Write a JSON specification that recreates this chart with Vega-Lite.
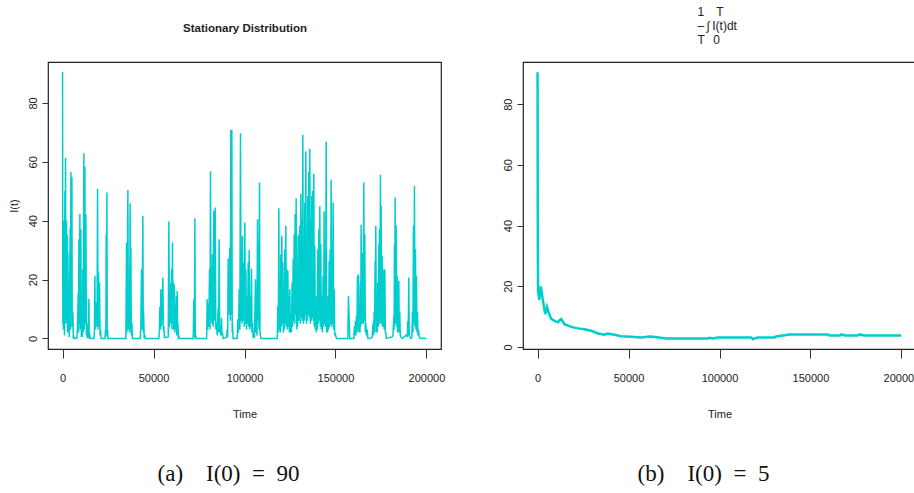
{
 "$schema": "https://vega.github.io/schema/vega-lite/v6.json",
 "background": "white",
 "padding": {"left": 7, "top": 4, "right": 0, "bottom": 0},
 "config": {
   "font": "Liberation Sans",
   "view": {"stroke": "#222", "strokeWidth": 1.2},
   "axis": {"domain": false, "grid": false, "tickColor": "#333", "labelColor": "#222", "titleColor": "#222", "labelFont": "Liberation Sans", "titleFont": "Liberation Sans", "titleFontWeight": "normal", "labelFontSize": 11, "titleFontSize": 11},
   "title": {"font": "Liberation Serif", "color": "#111", "fontWeight": "normal", "fontSize": 23}
 },
 "datasets": {
  "a": [{"t":0,"v":90.5},{"t":150,"v":5},{"t":300,"v":40},{"t":450,"v":3},{"t":600,"v":28},{"t":750,"v":12},{"t":900,"v":40},{"t":1050,"v":1},{"t":1282,"v":50.2},{"t":1450,"v":8},{"t":1648,"v":61.3},{"t":1800,"v":5},{"t":2000,"v":30},{"t":2198,"v":40},{"t":2400,"v":6},{"t":2600,"v":35},{"t":2750,"v":2},{"t":2930,"v":29.2},{"t":3100,"v":8},{"t":3300,"v":12},{"t":3480,"v":9.3},{"t":3650,"v":0.5},{"t":3900,"v":20},{"t":4213,"v":37.7},{"t":4400,"v":3},{"t":4579,"v":56.5},{"t":4800,"v":10},{"t":5128,"v":54.8},{"t":5300,"v":4},{"t":5678,"v":8.8},{"t":5900,"v":0.3},{"t":6227,"v":0.5},{"t":6500,"v":0},{"t":7800,"v":0},{"t":8100,"v":2},{"t":8608,"v":15.6},{"t":8800,"v":2},{"t":8975,"v":33.7},{"t":9200,"v":5},{"t":9524,"v":42.3},{"t":9750,"v":3},{"t":10073,"v":37.1},{"t":10300,"v":0.5},{"t":10440,"v":6.5},{"t":10800,"v":0.5},{"t":11172,"v":23.5},{"t":11400,"v":2},{"t":11722,"v":62.9},{"t":11950,"v":3},{"t":12271,"v":58.4},{"t":12500,"v":5},{"t":12821,"v":42.3},{"t":13100,"v":1},{"t":13370,"v":5.3},{"t":13600,"v":0.3},{"t":14200,"v":0.2},{"t":14469,"v":13.5},{"t":14650,"v":0.2},{"t":14835,"v":1.9},{"t":15100,"v":0},{"t":17300,"v":0},{"t":17500,"v":2},{"t":17766,"v":21.3},{"t":18000,"v":3},{"t":18315,"v":12.2},{"t":18600,"v":4},{"t":19000,"v":12},{"t":19231,"v":50.8},{"t":19500,"v":3},{"t":19780,"v":22.4},{"t":20050,"v":4},{"t":20330,"v":19},{"t":20600,"v":1},{"t":20879,"v":3.1},{"t":21200,"v":0},{"t":23300,"v":0},{"t":23626,"v":3.1},{"t":23800,"v":0.5},{"t":23992,"v":35.4},{"t":24150,"v":10},{"t":24359,"v":49.6},{"t":24550,"v":1},{"t":24725,"v":3.1},{"t":25000,"v":0},{"t":34800,"v":0},{"t":35164,"v":32.6},{"t":35400,"v":2},{"t":35897,"v":50.4},{"t":36200,"v":3},{"t":36446,"v":13.3},{"t":36800,"v":2},{"t":37179,"v":45.9},{"t":37350,"v":3},{"t":37545,"v":30.9},{"t":37800,"v":1},{"t":38095,"v":5.3},{"t":38400,"v":0},{"t":42700,"v":0},{"t":43040,"v":4.2},{"t":43407,"v":23.5},{"t":43700,"v":3},{"t":44139,"v":41.7},{"t":44350,"v":2},{"t":44506,"v":9.3},{"t":44850,"v":0.5},{"t":45238,"v":0.8},{"t":45500,"v":0},{"t":52900,"v":0},{"t":53200,"v":2},{"t":53480,"v":10.7},{"t":53750,"v":3},{"t":54030,"v":16.7},{"t":54300,"v":4},{"t":54600,"v":8},{"t":55129,"v":20.7},{"t":55400,"v":3},{"t":55678,"v":4.2},{"t":56000,"v":0.3},{"t":58100,"v":0.5},{"t":58425,"v":39.7},{"t":58700,"v":4},{"t":58975,"v":14.4},{"t":59250,"v":5},{"t":59524,"v":19},{"t":59700,"v":6},{"t":59890,"v":23.5},{"t":60150,"v":3},{"t":60440,"v":32.6},{"t":60620,"v":5},{"t":60806,"v":19},{"t":61100,"v":3},{"t":61356,"v":18.4},{"t":61650,"v":2},{"t":61905,"v":11},{"t":62200,"v":3},{"t":62455,"v":14.4},{"t":62750,"v":1},{"t":63004,"v":16.1},{"t":63200,"v":2},{"t":63370,"v":5.3},{"t":63650,"v":0.5},{"t":63920,"v":0.8},{"t":64200,"v":0},{"t":71800,"v":0},{"t":72162,"v":13.3},{"t":72450,"v":0.5},{"t":72711,"v":40.8},{"t":72950,"v":0.5},{"t":73260,"v":0.8},{"t":73500,"v":0},{"t":79200,"v":0},{"t":79488,"v":13.3},{"t":79750,"v":3},{"t":80037,"v":12},{"t":80400,"v":4},{"t":80770,"v":23.5},{"t":81050,"v":3},{"t":81319,"v":56.8},{"t":81600,"v":6},{"t":81868,"v":21.3},{"t":82150,"v":5},{"t":82418,"v":28.6},{"t":82800,"v":4},{"t":83150,"v":43.4},{"t":83500,"v":6},{"t":83883,"v":44.5},{"t":84250,"v":3},{"t":84615,"v":5.3},{"t":85000,"v":1},{"t":85531,"v":10.5},{"t":85800,"v":2},{"t":86081,"v":33.7},{"t":86350,"v":2},{"t":86630,"v":4.2},{"t":87000,"v":1},{"t":87363,"v":7},{"t":87650,"v":1},{"t":87912,"v":1.9},{"t":88200,"v":0},{"t":90200,"v":0.3},{"t":90476,"v":3.1},{"t":90750,"v":0.5},{"t":91026,"v":27.2},{"t":91300,"v":8},{"t":91575,"v":20.1},{"t":91750,"v":10},{"t":91941,"v":30.9},{"t":92200,"v":6},{"t":92491,"v":70.9},{"t":92750,"v":8},{"t":93040,"v":70.8},{"t":93250,"v":2},{"t":93407,"v":5.3},{"t":93700,"v":0},{"t":96000,"v":0},{"t":96337,"v":6.5},{"t":96700,"v":2},{"t":97070,"v":16.7},{"t":97450,"v":3},{"t":97802,"v":69.7},{"t":98100,"v":6},{"t":98352,"v":20.1},{"t":98600,"v":5},{"t":98901,"v":34.9},{"t":99250,"v":6},{"t":99634,"v":25.8},{"t":99900,"v":4},{"t":100183,"v":39.4},{"t":100450,"v":5},{"t":100733,"v":23.5},{"t":101100,"v":3},{"t":101465,"v":14.4},{"t":101750,"v":5},{"t":102014,"v":25.8},{"t":102300,"v":4},{"t":102564,"v":30},{"t":102900,"v":3},{"t":103296,"v":14.4},{"t":103550,"v":4},{"t":103846,"v":23.7},{"t":104100,"v":2},{"t":104395,"v":5.3},{"t":104750,"v":0.5},{"t":105128,"v":0.8},{"t":105500,"v":0.5},{"t":106043,"v":20.1},{"t":106300,"v":2},{"t":106593,"v":5.3},{"t":106850,"v":1},{"t":107142,"v":40.5},{"t":107400,"v":6},{"t":107692,"v":32.6},{"t":107950,"v":3},{"t":108241,"v":53},{"t":108500,"v":2},{"t":108791,"v":0.8},{"t":109100,"v":0},{"t":118000,"v":0},{"t":118314,"v":11},{"t":118600,"v":2},{"t":118864,"v":44.2},{"t":119150,"v":3},{"t":119414,"v":7.6},{"t":119700,"v":2},{"t":119963,"v":28.6},{"t":120250,"v":4},{"t":120512,"v":34.9},{"t":120800,"v":5},{"t":121062,"v":25.8},{"t":121350,"v":2},{"t":121611,"v":4.2},{"t":121900,"v":3},{"t":122161,"v":30.3},{"t":122450,"v":5},{"t":122710,"v":38.3},{"t":123000,"v":4},{"t":123260,"v":23.5},{"t":123550,"v":3},{"t":123809,"v":23},{"t":124100,"v":4},{"t":124359,"v":14.4},{"t":124650,"v":2},{"t":124908,"v":16.7},{"t":125200,"v":2},{"t":125457,"v":4.2},{"t":125800,"v":2},{"t":126190,"v":19},{"t":126450,"v":4},{"t":126740,"v":26.9},{"t":127000,"v":6},{"t":127289,"v":35.4},{"t":127550,"v":5},{"t":127839,"v":42.3},{"t":128100,"v":8},{"t":128388,"v":47.6},{"t":128650,"v":3},{"t":128937,"v":7.6},{"t":129200,"v":4},{"t":129487,"v":34.9},{"t":129750,"v":6},{"t":130036,"v":35.4},{"t":130200,"v":8},{"t":130403,"v":38.3},{"t":130700,"v":5},{"t":130952,"v":49.1},{"t":131250,"v":7},{"t":131502,"v":40.5},{"t":131800,"v":6},{"t":132051,"v":69.2},{"t":132350,"v":5},{"t":132601,"v":25.8},{"t":132900,"v":6},{"t":133150,"v":46.2},{"t":133400,"v":8},{"t":133700,"v":63.5},{"t":134000,"v":5},{"t":134249,"v":24.7},{"t":134500,"v":6},{"t":134798,"v":48.5},{"t":135100,"v":8},{"t":135348,"v":56.5},{"t":135600,"v":7},{"t":135897,"v":64.4},{"t":136200,"v":5},{"t":136447,"v":40.5},{"t":136700,"v":6},{"t":136996,"v":48.5},{"t":137300,"v":7},{"t":137546,"v":50.2},{"t":137800,"v":6},{"t":138095,"v":55.9},{"t":138350,"v":4},{"t":138645,"v":31.5},{"t":138900,"v":3},{"t":139194,"v":14.4},{"t":139450,"v":2},{"t":139744,"v":5.3},{"t":140000,"v":3},{"t":140293,"v":30.3},{"t":140550,"v":5},{"t":140843,"v":37.1},{"t":141100,"v":6},{"t":141392,"v":44.9},{"t":141650,"v":4},{"t":141942,"v":32},{"t":142200,"v":3},{"t":142491,"v":14.4},{"t":142850,"v":2},{"t":143224,"v":21.3},{"t":143500,"v":4},{"t":143773,"v":43.2},{"t":144050,"v":5},{"t":144323,"v":26.9},{"t":144600,"v":4},{"t":144872,"v":66.9},{"t":145150,"v":2},{"t":145422,"v":7.6},{"t":145700,"v":2},{"t":145971,"v":14.4},{"t":146250,"v":3},{"t":146521,"v":26.4},{"t":146800,"v":4},{"t":147070,"v":30.3},{"t":147350,"v":5},{"t":147620,"v":54},{"t":147900,"v":4},{"t":148169,"v":28.1},{"t":148450,"v":5},{"t":148718,"v":46.2},{"t":149000,"v":3},{"t":149268,"v":16.7},{"t":149550,"v":1},{"t":149817,"v":1.9},{"t":150367,"v":0.3},{"t":150700,"v":0},{"t":156776,"v":0},{"t":157143,"v":14.4},{"t":157509,"v":6.5},{"t":157875,"v":0},{"t":160100,"v":0},{"t":160439,"v":4.2},{"t":160700,"v":1},{"t":160989,"v":5.9},{"t":161250,"v":1},{"t":161538,"v":7.6},{"t":161800,"v":2},{"t":162088,"v":21.3},{"t":162350,"v":3},{"t":162637,"v":21.8},{"t":162900,"v":2},{"t":163187,"v":4.2},{"t":163450,"v":2},{"t":163736,"v":19},{"t":163900,"v":4},{"t":164102,"v":38.6},{"t":164400,"v":5},{"t":164652,"v":16.7},{"t":164850,"v":6},{"t":165018,"v":29.2},{"t":165300,"v":5},{"t":165568,"v":53},{"t":165850,"v":6},{"t":166117,"v":35.4},{"t":166400,"v":2},{"t":166667,"v":5.3},{"t":167000,"v":1},{"t":167399,"v":3.1},{"t":167800,"v":0},{"t":168315,"v":0},{"t":170146,"v":0.3},{"t":170696,"v":5.3},{"t":170950,"v":1},{"t":171245,"v":9},{"t":171500,"v":2},{"t":171795,"v":26.4},{"t":171950,"v":5},{"t":172161,"v":38.3},{"t":172450,"v":2},{"t":172711,"v":6.5},{"t":173000,"v":2},{"t":173260,"v":19},{"t":173550,"v":4},{"t":173810,"v":32},{"t":174000,"v":6},{"t":174176,"v":37.1},{"t":174450,"v":5},{"t":174725,"v":55.5},{"t":174900,"v":7},{"t":175091,"v":45.1},{"t":175350,"v":5},{"t":175641,"v":28.1},{"t":175900,"v":4},{"t":176190,"v":23.5},{"t":176400,"v":4},{"t":176557,"v":21.8},{"t":176800,"v":3},{"t":177106,"v":23.5},{"t":177400,"v":2},{"t":177656,"v":1.9},{"t":178000,"v":0},{"t":181136,"v":0.5},{"t":181600,"v":1},{"t":182051,"v":7.6},{"t":182250,"v":3},{"t":182418,"v":32},{"t":182600,"v":5},{"t":182784,"v":47.9},{"t":183050,"v":5},{"t":183334,"v":38.3},{"t":183600,"v":4},{"t":183883,"v":21.3},{"t":184150,"v":2},{"t":184433,"v":5.3},{"t":184600,"v":2},{"t":184799,"v":19.6},{"t":185050,"v":2},{"t":185348,"v":9},{"t":185600,"v":1},{"t":185898,"v":0.5},{"t":186630,"v":0},{"t":189194,"v":1.2},{"t":189450,"v":0.5},{"t":189744,"v":5.9},{"t":190000,"v":1},{"t":190293,"v":20.7},{"t":190550,"v":1},{"t":190843,"v":0.5},{"t":191575,"v":0},{"t":192000,"v":0.5},{"t":192308,"v":9},{"t":192600,"v":2},{"t":192857,"v":38.3},{"t":193150,"v":5},{"t":193407,"v":51.9},{"t":193700,"v":4},{"t":193956,"v":30.3},{"t":194250,"v":3},{"t":194506,"v":21.3},{"t":194800,"v":2},{"t":195055,"v":9},{"t":195350,"v":1},{"t":195605,"v":3.1},{"t":196000,"v":0.5},{"t":196337,"v":0.1},{"t":199450,"v":0},{"t":200000,"v":0}],
  "b": [{"t":0,"v":90.5},{"t":150,"v":31.8},{"t":300,"v":18.5},{"t":930,"v":15.5},{"t":1300,"v":17.4},{"t":1850,"v":19.9},{"t":2400,"v":17.4},{"t":3300,"v":14.1},{"t":4200,"v":10.8},{"t":5150,"v":13.2},{"t":6050,"v":11.4},{"t":7500,"v":9.2},{"t":9350,"v":8.6},{"t":11200,"v":8.1},{"t":12100,"v":8.8},{"t":13000,"v":9.2},{"t":14800,"v":7.5},{"t":18500,"v":6.6},{"t":22200,"v":6.1},{"t":25800,"v":5.8},{"t":29500,"v":5.3},{"t":33200,"v":4.4},{"t":36800,"v":4.0},{"t":38600,"v":4.4},{"t":42300,"v":4.0},{"t":46000,"v":3.5},{"t":51500,"v":3.3},{"t":57000,"v":3.1},{"t":61500,"v":3.4},{"t":63500,"v":3.3},{"t":70700,"v":2.75},{"t":93600,"v":2.75},{"t":94500,"v":3.0},{"t":96400,"v":2.75},{"t":99100,"v":3.1},{"t":117400,"v":3.1},{"t":118300,"v":2.6},{"t":121100,"v":3.1},{"t":130000,"v":3.1},{"t":131100,"v":3.4},{"t":134800,"v":3.75},{"t":138500,"v":4.1},{"t":159600,"v":4.1},{"t":160400,"v":3.75},{"t":166300,"v":3.75},{"t":166900,"v":4.1},{"t":169100,"v":3.75},{"t":176000,"v":3.75},{"t":176900,"v":4.1},{"t":179700,"v":3.75},{"t":199800,"v":3.75}]
 },
 "spacing": 82,
 "bounds": "flush",
 "hconcat": [
  {
   "width": 393, "height": 287,
   "data": {"name": "a"},
   "title": {"text": "(a)\u2003I(0)\u2002=\u200290", "orient": "bottom", "dx": -16, "offset": 44},
   "layer": [
    {
     "mark": {"type": "line", "color": "#00CDCD", "strokeWidth": 1.5},
     "encoding": {
      "x": {"field": "t", "type": "quantitative", "scale": {"domain": [-8000, 208000], "nice": false, "zero": false}, "axis": {"orient": "bottom", "values": [0, 50000, 100000, 150000, 200000], "format": "d", "title": "Time", "tickSize": 9, "labelPadding": 14, "titlePadding": 25}},
      "y": {"field": "v", "type": "quantitative", "scale": {"domain": [-3.6, 93.9], "nice": false, "zero": false}, "axis": {"values": [0, 20, 40, 60, 80], "labelAngle": -90, "title": "I(t)", "tickSize": 6, "labelPadding": 4, "titlePadding": 8}}
     }
    },
    {
     "mark": {"type": "line", "strokeOpacity": 0},
     "encoding": {
      "x": {"field": "t", "type": "quantitative", "axis": {"orient": "top", "labels": false, "ticks": false, "domain": false, "title": "Stationary Distribution", "titleFontWeight": "bold", "titleFontSize": 11.5, "titlePadding": 29}}
     }
    }
   ],
   "resolve": {"axis": {"x": "independent"}}
  },
  {
   "width": 393, "height": 287,
   "data": {"name": "b"},
   "title": {"text": "(b)\u2003I(0)\u2002=\u20025", "orient": "bottom", "dx": -16, "offset": 44},
   "layer": [
    {
     "mark": {"type": "line", "color": "#00CDCD", "strokeWidth": 2.5},
     "encoding": {
      "x": {"field": "t", "type": "quantitative", "scale": {"domain": [-8000, 208000], "nice": false, "zero": false}, "axis": {"orient": "bottom", "values": [0, 50000, 100000, 150000, 200000], "format": "d", "title": "Time", "tickSize": 9, "labelPadding": 14, "titlePadding": 25}},
      "y": {"field": "v", "type": "quantitative", "scale": {"domain": [-0.7, 93.9], "nice": false, "zero": false}, "axis": {"values": [0, 20, 40, 60, 80], "labelAngle": -90, "title": null, "tickSize": 6, "labelPadding": 4}}
     }
    },
    {
     "mark": {"type": "line", "strokeOpacity": 0},
     "encoding": {
      "x": {"field": "t", "type": "quantitative", "axis": {"orient": "top", "labels": false, "ticks": false, "domain": false, "title": ["1\u2002\u2002T", "\u2013\u2009\u222b\u2009I(t)dt", "T\u2002\u20090"], "titleAlign": "left", "titleX": 174, "titleFontSize": 12, "titleLineHeight": 14, "titlePadding": 16}}
     }
    }
   ],
   "resolve": {"axis": {"x": "independent"}}
  }
 ]
}
